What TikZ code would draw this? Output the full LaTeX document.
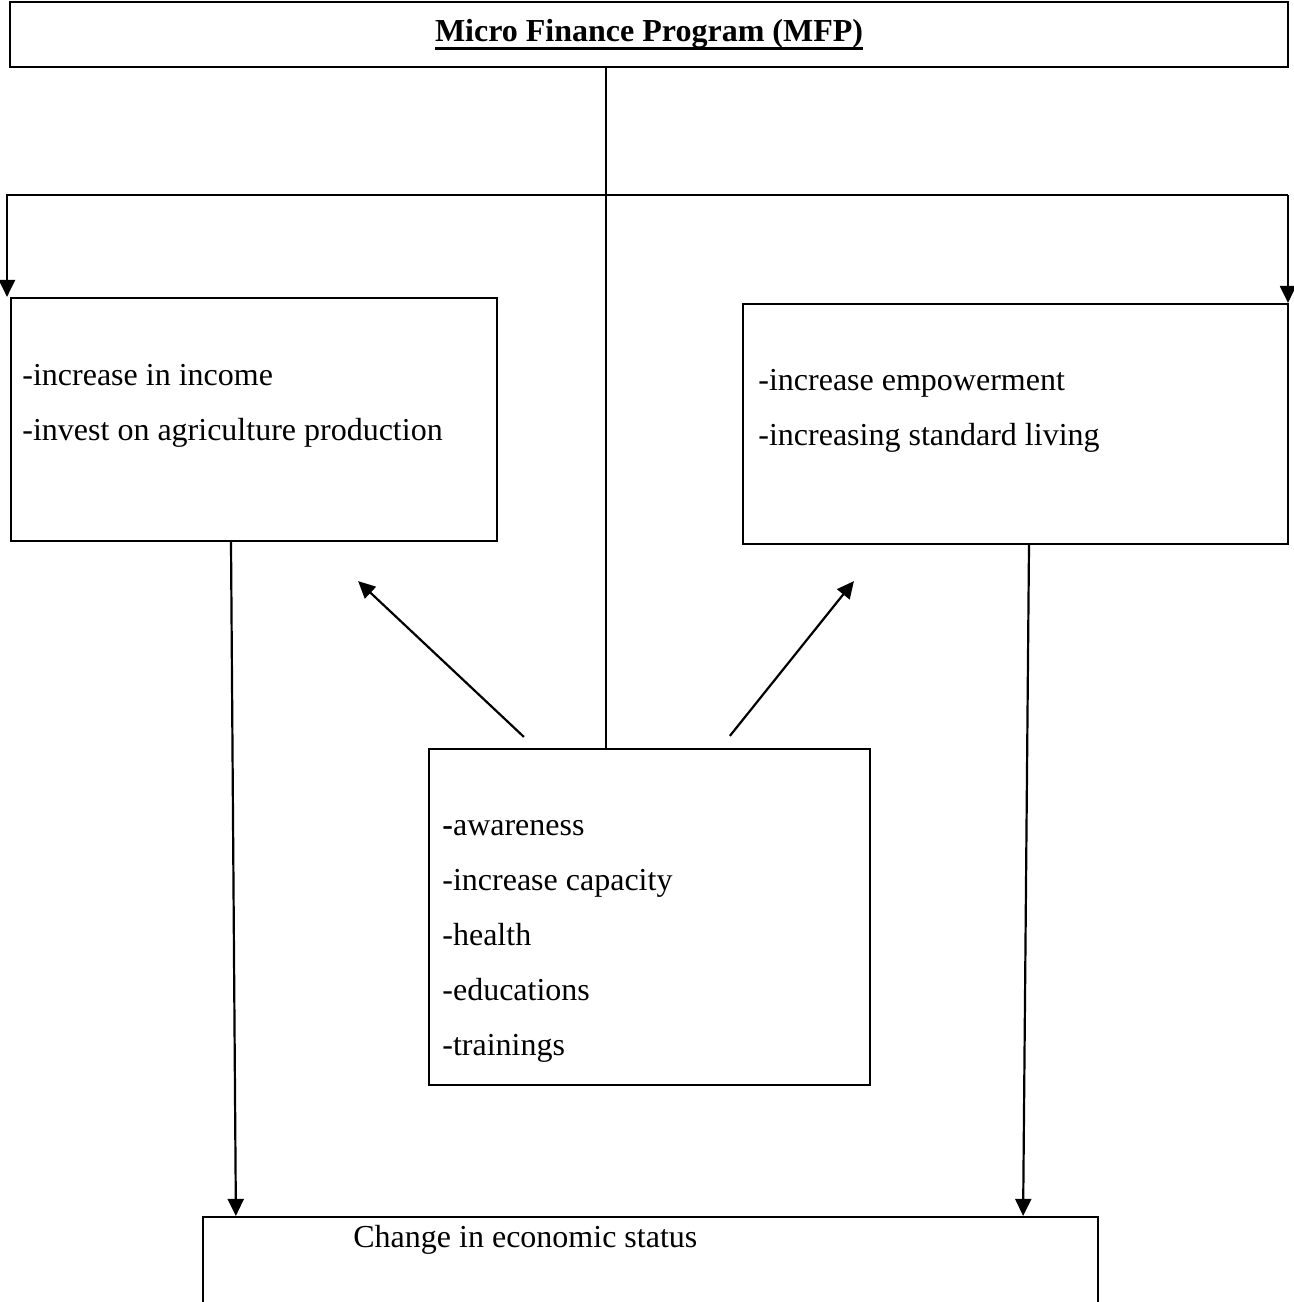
\documentclass[tikz,border=0pt]{standalone}
\usepackage{fontspec}
\setmainfont{Liberation Serif}
\usetikzlibrary{arrows.meta,calc}
\newcommand{\thickul}[1]{\setbox0\hbox{#1}\rlap{\raisebox{-4.5pt}{\rule{\wd0}{1.5pt}}}\box0}

\begin{document}
\begin{tikzpicture}[x=0.5pt, y=-0.5pt,
    box/.style={draw, line width=1.1pt, inner sep=0pt},
    item/.style={anchor=base west, inner sep=0pt, font=\fontsize{16}{19}\selectfont},
    arr/.style={line width=1.1pt, -{Triangle[length=8.5pt, width=8pt]}}]
    \clip (0,0) rectangle (1294,1302);

    % boxes
    \node[box, minimum width=639pt, minimum height=32.5pt, font=\fontsize{16}{19}\selectfont\bfseries]
        (mfp) at (649, 34.5) {\thickul{Micro Finance Program (MFP)}};
    \node[box, minimum width=243pt, minimum height=121.5pt] (gain) at (254, 419.5) {};
    \node[box, minimum width=272.5pt, minimum height=120pt] (power) at (1015.5, 424) {};
    \node[box, minimum width=220.5pt, minimum height=168pt] (mid) at (649.5, 917) {};
    \node[box, minimum width=447.5pt, minimum height=61.5pt] (eco) at (650.5, 1278.5) {};

    % texts
    \foreach \t [count=\i from 0] in {-increase in income, -invest on agriculture production}
        \node[item] (g\i) at (22, 385+55*\i) {\t};
    \foreach \t [count=\i from 0] in {-increase empowerment, -increasing standard living}
        \node[item] (p\i) at (758, 390+55*\i) {\t};
    \foreach \t [count=\i from 0] in {\textbf{-}awareness, -increase capacity, -health, -educations, -trainings}
        \node[item] (m\i) at (442, 835+55*\i) {\t};
    \node[item] (ecolabel) at (353, 1247) {Change in economic status};

    % connectors
    \coordinate (hub) at (606, 195);
    \coordinate (lcorner) at (7, 195);
    \coordinate (rcorner) at (1288, 195);
    \draw[line width=0.7pt] (hub |- mfp.south) -- (hub |- mid.north);
    \draw[arr] (rcorner) -- (lcorner) -- (lcorner |- gain.north);
    \draw[arr] (rcorner) -- (rcorner |- power.north);

    \draw[arr] ($(mid.north west)+(96,-11)$) -- ($(gain.south east)+(-140,39)$);
    \draw[arr] ($(mid.north west)+(302,-12)$) -- ($(power.south west)+(112,36)$);

    \draw[arr] ($(gain.south)+(-23,0)$) -- ($(eco.north west)+(34,0)$);
    \draw[arr] ($(power.south)+(13.5,0)$) -- ($(eco.north east)+(-76,0)$);
\end{tikzpicture}
\end{document}
